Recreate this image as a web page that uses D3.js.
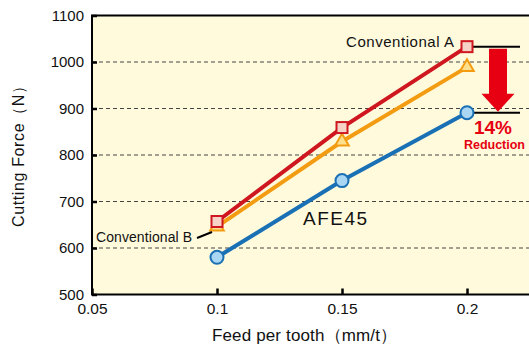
<!DOCTYPE html>
<html><head><meta charset="utf-8">
<script src="https://cdn.jsdelivr.net/npm/d3@7"></script>
<style>
html,body{margin:0;padding:0;background:#fff;overflow:hidden}
svg{display:block;font-family:"Liberation Sans",Arial,sans-serif}
</style></head>
<body>
<script>
const feeds = [0.1, 0.15, 0.2];
const conventionalA = [657, 859, 1033];
const conventionalB = [646, 829, 989];
const afe45 = [580, 745, 891];
const xTicks = [0.05, 0.1, 0.15, 0.2];
const yTicks = [500, 600, 700, 800, 900, 1000, 1100];

const W = 529, H = 349;
const svg = d3.select("body").append("svg").attr("width", W).attr("height", H);

const x = d3.scaleLinear().domain([0.05, 0.25]).range([92, 592]);
const y = d3.scaleLinear().domain([500, 1100]).range([294.5, 15.5]);

// plot background
svg.append("rect").attr("x", x(0.05)).attr("y", y(1100)).attr("width", x(0.25) - x(0.05))
  .attr("height", y(500) - y(1100)).attr("fill", "#FFFADC");

// gridlines
svg.append("g").selectAll("line").data(yTicks.filter(d => d > 500 && d < 1100)).join("line")
  .attr("x1", x(0.05)).attr("x2", W).attr("y1", d => y(d)).attr("y2", d => y(d))
  .attr("stroke", "#444").attr("stroke-width", 1).attr("stroke-dasharray", "4,3");

// axes
const yAxis = d3.axisLeft(y).tickValues(yTicks).tickSize(-5).tickPadding(10).tickFormat(d3.format("d"));
const gy = svg.append("g").attr("transform", `translate(${x(0.05)},0)`).call(yAxis);
gy.select(".domain").remove();
gy.selectAll(".tick line").attr("stroke", "#000").attr("stroke-width", 2.5);
gy.selectAll(".tick text").attr("font-size", 15).attr("fill", "#111").attr("x", -8);

const xAxis = d3.axisBottom(x).tickValues(xTicks).tickSize(-6).tickPadding(10).tickFormat(d => String(d));
const gx = svg.append("g").attr("transform", `translate(0,${y(500)})`).call(xAxis);
gx.select(".domain").remove();
gx.selectAll(".tick line").attr("stroke", "#000").attr("stroke-width", 2.5);
gx.selectAll(".tick text").attr("font-size", 15.5).attr("fill", "#111").attr("y", 8);

// frame
svg.append("path")
  .attr("d", `M${W + 5},${y(1100)}H${x(0.05)}V${y(500)}H${W + 5}`)
  .attr("fill", "none").attr("stroke", "#000").attr("stroke-width", 2);

// annotation horizontal lines
const lineX0 = x(0.2) + 5, lineX1 = 520;
[conventionalA[2], afe45[2]].forEach(v => {
  svg.append("line").attr("x1", lineX0).attr("x2", lineX1).attr("y1", y(v)).attr("y2", y(v))
    .attr("stroke", "#000").attr("stroke-width", 2);
});

// series
const line = d3.line().x(d => x(d[0])).y(d => y(d[1]));
const series = [
  {vals: conventionalA, color: "#CF1720", fill: "#F7D2C6", shape: "square"},
  {vals: conventionalB, color: "#F39C12", fill: "#FCE08E", shape: "triangle"},
  {vals: afe45, color: "#1A70B5", fill: "#A9D6F2", shape: "circle"}
];
[series[1], series[0], series[2]].forEach(s => {
  const pts = feeds.map((f, i) => [f, s.vals[i]]);
  svg.append("path").datum(pts).attr("d", line).attr("fill", "none")
    .attr("stroke", s.color).attr("stroke-width", 4);
});
[series[1], series[0], series[2]].forEach(s => {
  const pts = feeds.map((f, i) => [f, s.vals[i]]);
  const g = svg.append("g");
  if (s.shape === "square") {
    g.selectAll("rect").data(pts).join("rect")
      .attr("x", d => x(d[0]) - 5.5).attr("y", d => y(d[1]) - 5.5).attr("width", 11).attr("height", 11)
      .attr("fill", s.fill).attr("stroke", s.color).attr("stroke-width", 2);
  } else if (s.shape === "triangle") {
    g.selectAll("path").data(pts).join("path")
      .attr("d", d3.symbol().type(d3.symbolTriangle).size(80))
      .attr("transform", d => `translate(${x(d[0])},${y(d[1])})`)
      .attr("fill", s.fill).attr("stroke", s.color).attr("stroke-width", 2);
  } else {
    g.selectAll("circle").data(pts).join("circle")
      .attr("cx", d => x(d[0])).attr("cy", d => y(d[1])).attr("r", 6.5)
      .attr("fill", s.fill).attr("stroke", s.color).attr("stroke-width", 2);
  }
});

// red arrow
const ax = 498, ay0 = y(conventionalA[2]) + 2, ay1 = y(afe45[2]) - 1;
svg.append("path")
  .attr("d", `M${ax - 9},${ay0}H${ax + 9}V${ay1 - 18}H${ax + 16.5}L${ax},${ay1}L${ax - 16.5},${ay1 - 18}H${ax - 9}Z`)
  .attr("fill", "#E60012");
svg.append("text").attr("x", 493).attr("y", 134).attr("text-anchor", "middle")
  .attr("font-size", 19).attr("font-weight", "bold").attr("fill", "#E60012").text("14%");
svg.append("text").attr("x", 494.5).attr("y", 149).attr("text-anchor", "middle")
  .attr("font-size", 12.5).attr("font-weight", "bold").attr("fill", "#E60012")
  .attr("textLength", 61).text("Reduction");

// labels
svg.append("text").attr("x", 346).attr("y", 47).attr("font-size", 15).attr("fill", "#111")
  .attr("textLength", 108).text("Conventional A");
svg.append("text").attr("x", 96).attr("y", 242).attr("font-size", 14).attr("fill", "#111")
  .attr("textLength", 96).text("Conventional B");
svg.append("line").attr("x1", 197).attr("y1", 238).attr("x2", 212).attr("y2", 232)
  .attr("stroke", "#000").attr("stroke-width", 2);
svg.append("text").attr("x", 303).attr("y", 225).attr("font-size", 19).attr("fill", "#111")
  .attr("textLength", 64).text("AFE45");

// axis titles
svg.append("text").attr("transform", "translate(24,152.5) rotate(-90)").attr("text-anchor", "middle")
  .attr("font-size", 16).attr("fill", "#111").attr("textLength", 149).text("Cutting Force（N）");
svg.append("text").attr("x", 304.5).attr("y", 341).attr("text-anchor", "middle")
  .attr("font-size", 17).attr("fill", "#111").attr("textLength", 185).text("Feed per tooth（mm/t）");
</script>
</body></html>
